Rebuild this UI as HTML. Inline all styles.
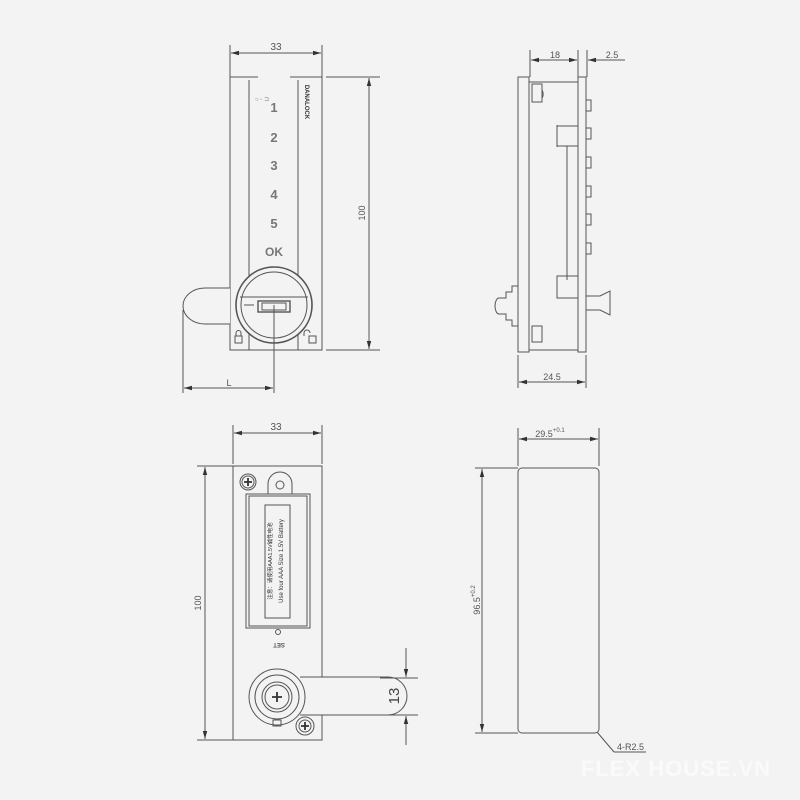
<!DOCTYPE html>
<html><head><style>html,body{margin:0;background:#f3f3f3}svg{display:block}</style></head><body>
<svg width="800" height="800" viewBox="0 0 800 800" xmlns="http://www.w3.org/2000/svg" font-family="Liberation Sans, sans-serif">
<defs><marker id="a" markerWidth="8" markerHeight="6" refX="8" refY="3" orient="auto-start-reverse"><path d="M0,0.8 L8,3 L0,5.2z" fill="#333"/></marker></defs>
<rect width="800" height="800" fill="#f3f3f3"/>
<g stroke="#555" stroke-width="1" fill="none">
<line x1="230" y1="45" x2="230" y2="77"/><line x1="322" y1="45" x2="322" y2="77"/>
<line x1="231" y1="53" x2="321" y2="53" marker-start="url(#a)" marker-end="url(#a)"/>
<path d="M258,77 H230 V350 H322 V77 H290"/>
<path d="M249,80 V350 M298,80 V350"/>
<line x1="326" y1="77" x2="380" y2="77"/><line x1="326" y1="350" x2="380" y2="350"/>
<line x1="369" y1="78" x2="369" y2="349" marker-start="url(#a)" marker-end="url(#a)"/>
<path d="M230,288 H205 A22,18 0 0 0 205,324 H230" fill="#f3f3f3"/>
<circle cx="274" cy="305" r="38" stroke-width="1.6" fill="#f3f3f3"/><circle cx="274" cy="305" r="33"/>
<line x1="240" y1="297" x2="308" y2="297"/>
<rect x="258" y="301" width="32" height="11" stroke-width="1.4"/><rect x="262" y="303" width="24" height="7"/>
<line x1="244" y1="305" x2="254" y2="305"/>
<line x1="274" y1="305" x2="274" y2="393"/><line x1="183" y1="310" x2="183" y2="393"/>
<line x1="184" y1="388" x2="273" y2="388" marker-start="url(#a)" marker-end="url(#a)"/>
<rect x="235" y="336" width="7" height="7"/><path d="M236,336 v-3 a2.5,2.5 0 0 1 5,0 v3"/>
<rect x="309" y="336" width="7" height="7"/><path d="M304,336 v-3 a3,3 0 0 1 6,0"/>
<line x1="530" y1="50" x2="530" y2="77"/><line x1="578" y1="50" x2="578" y2="77"/><line x1="587" y1="50" x2="587" y2="77"/>
<line x1="531" y1="60" x2="577" y2="60" marker-start="url(#a)" marker-end="url(#a)"/>
<line x1="618" y1="60" x2="588" y2="60" marker-end="url(#a)"/><line x1="618" y1="60" x2="625" y2="60"/>
<rect x="518" y="77" width="11" height="275"/>
<path d="M529,82 H578 V350 H529"/><rect x="578" y="77" width="8" height="275"/>
<path d="M532,84 h10 v18 h-10z M542,90 a3,5 0 0 1 0,8"/>
<path d="M557,126 h21 v20 h-21z M557,129 v-4 M557,143 v4 M567,146 V280"/>
<path d="M557,276 h21 v22 h-21z"/>
<path d="M532,326 h10 v16 h-10z"/>
<g><rect x="586" y="100" width="5" height="11"/><rect x="586" y="128" width="5" height="11"/><rect x="586" y="157" width="5" height="11"/><rect x="586" y="186" width="5" height="11"/><rect x="586" y="214" width="5" height="11"/><rect x="586" y="243" width="5" height="11"/></g>
<path d="M518,286 h-6 v6 h-6 v6 h-7 a4,8 0 0 0 0,16 h7 v6 h6 v6 h6"/>
<path d="M586,296 h14 l10,-5 v24 l-10,-5 h-14"/>
<line x1="518" y1="355" x2="518" y2="388"/><line x1="586" y1="355" x2="586" y2="388"/>
<line x1="519" y1="382" x2="585" y2="382" marker-start="url(#a)" marker-end="url(#a)"/>
<line x1="233" y1="425" x2="233" y2="464"/><line x1="322" y1="425" x2="322" y2="464"/>
<line x1="234" y1="433" x2="321" y2="433" marker-start="url(#a)" marker-end="url(#a)"/>
<rect x="233" y="466" width="89" height="274"/>
<line x1="197" y1="466" x2="233" y2="466"/><line x1="197" y1="740" x2="233" y2="740"/>
<line x1="205" y1="467" x2="205" y2="739" marker-start="url(#a)" marker-end="url(#a)"/>
<circle cx="248" cy="482" r="8"/><circle cx="248" cy="482" r="6"/>
<path d="M268,494 v-10 a12,12 0 0 1 24,0 v10"/><circle cx="280" cy="485" r="4"/>
<rect x="246" y="494" width="64" height="134"/><rect x="249" y="496" width="58" height="130"/>
<rect x="265" y="505" width="25" height="113"/>
<circle cx="278" cy="632" r="2.5"/>
<path d="M300,677 H388 A19,19 0 0 1 388,715 H300" fill="#f3f3f3"/>
<circle cx="277" cy="697" r="28" fill="#f3f3f3"/><circle cx="277" cy="697" r="22"/><circle cx="277" cy="697" r="15"/><circle cx="277" cy="697" r="12"/>
<rect x="273" y="720" width="8" height="6"/>
<circle cx="305" cy="726" r="9" fill="#f3f3f3"/><circle cx="305" cy="726" r="6"/>
<line x1="380" y1="678" x2="418" y2="678"/><line x1="380" y1="715" x2="418" y2="715"/>
<line x1="406" y1="648" x2="406" y2="677" marker-end="url(#a)"/><line x1="406" y1="745" x2="406" y2="716" marker-end="url(#a)"/>
<line x1="518" y1="428" x2="518" y2="466"/><line x1="599" y1="428" x2="599" y2="466"/>
<line x1="519" y1="439" x2="598" y2="439" marker-start="url(#a)" marker-end="url(#a)"/>
<rect x="518" y="468" width="81" height="265" rx="4"/>
<line x1="475" y1="468" x2="518" y2="468"/><line x1="475" y1="733" x2="518" y2="733"/>
<line x1="482" y1="469" x2="482" y2="732" marker-start="url(#a)" marker-end="url(#a)"/>
<path d="M614,752 L597,732 M614,752 H646"/>
</g>
<g stroke="#333" stroke-width="1.8">
<path d="M244,482 h8 M248,478 v8 M301,726 h8 M305,722 v8 M272,697 h10 M277,692 v10"/>
</g>
<g fill="#555" font-size="10">
<text x="276" y="50" text-anchor="middle">33</text>
<text x="276" y="430" text-anchor="middle">33</text>
<text x="229" y="386" text-anchor="middle" font-size="9">L</text>
<text transform="translate(365,213) rotate(-90)" text-anchor="middle" font-size="9">100</text>
<text transform="translate(201,603) rotate(-90)" text-anchor="middle" font-size="9">100</text>
<text x="555" y="58" text-anchor="middle" font-size="9">18</text>
<text x="612" y="58" text-anchor="middle" font-size="9">2.5</text>
<text x="552" y="380" text-anchor="middle" font-size="9">24.5</text>
<text x="550" y="437" text-anchor="middle" font-size="9">29.5<tspan font-size="6" dy="-5">+0.1</tspan></text>
<text transform="translate(480,600) rotate(-90)" text-anchor="middle" font-size="9">96.5<tspan font-size="6" dy="-5">+0.2</tspan></text>
<text x="617" y="750" font-size="9">4-R2.5</text>
<text transform="translate(399,696) rotate(-90)" text-anchor="middle" font-size="15" fill="#444">13</text>
</g>
<g fill="#777" font-weight="bold" font-size="13" text-anchor="middle">
<text x="274" y="112">1</text><text x="274" y="142">2</text><text x="274" y="170">3</text><text x="274" y="199">4</text><text x="274" y="228">5</text><text x="274" y="256" font-size="12">OK</text>
<text x="262" y="101" font-size="6" font-weight="normal">○ ◦ ⊐</text>
<text transform="translate(305,102) rotate(90)" font-size="6" fill="#333">DANALOCK</text>
<text transform="translate(272,561) rotate(-90)" font-size="5.5" fill="#333" font-weight="normal" font-family="Liberation Sans, Noto Sans CJK SC, sans-serif">注意：请使用AAA1.5V碱性电池</text>
<text transform="translate(283,561) rotate(-90)" font-size="6" fill="#333" font-weight="normal">Use four AAA Size 1.5V Battery</text>
<text transform="translate(279,643) rotate(180)" font-size="6" fill="#555">SET</text>
</g>
<text x="676" y="776" text-anchor="middle" font-size="22" font-weight="bold" fill="#fafafa" letter-spacing="1">FLEX HOUSE.VN</text>
</svg>
</body></html>
